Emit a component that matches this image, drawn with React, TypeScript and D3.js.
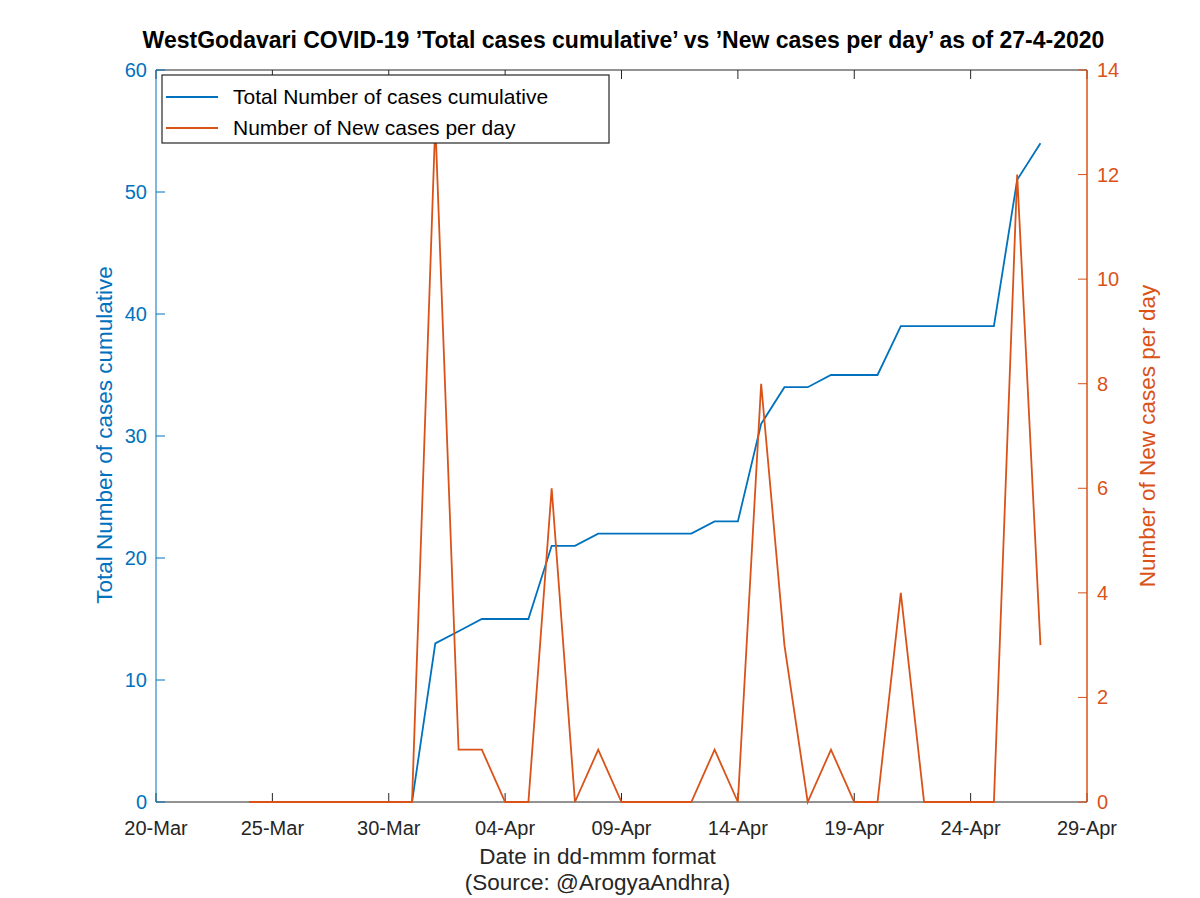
import React, { useEffect, useRef } from 'react';
import * as d3 from 'd3';

// daily series, 24-Mar-2020 .. 27-Apr-2020
const startDay = '2020-03-24';
const totalCases = [
  0, 0, 0, 0, 0, 0, 0, 0, 13, 14, 15, 15, 15, 21, 21, 22, 22, 22, 22, 22,
  23, 23, 31, 34, 34, 35, 35, 35, 39, 39, 39, 39, 39, 51, 54,
];
const newCases = [
  0, 0, 0, 0, 0, 0, 0, 0, 13, 1, 1, 0, 0, 6, 0, 1, 0, 0, 0, 0,
  1, 0, 8, 3, 0, 1, 0, 0, 4, 0, 0, 0, 0, 12, 3,
];
const xTickDates = ['2020-03-20', '2020-03-25', '2020-03-30', '2020-04-04', '2020-04-09', '2020-04-14', '2020-04-19', '2020-04-24', '2020-04-29'];
const leftTicks = [0, 10, 20, 30, 40, 50, 60];
const rightTicks = [0, 2, 4, 6, 8, 10, 12, 14];

const BLUE = '#0072BD';
const ORANGE = '#D95319';
const FONT = '"Liberation Sans", Arial, Helvetica, sans-serif';

const parse = (s: string) => {
  const [y, m, d] = s.split('-').map(Number);
  return new Date(y, m - 1, d);
};

const App = () => {
  const ref = useRef<SVGSVGElement>(null);

  useEffect(() => {
    draw();
  }, []);

  const draw = () => {
    const svg = d3.select(ref.current);
    svg.selectAll('*').remove();

    const left = 156, right = 1087, top = 70, bottom = 802;
    const day0 = parse(startDay);
    const dates = newCases.map((_, i) => d3.timeDay.offset(day0, i));

    const x = d3.scaleTime().domain([parse('2020-03-20'), parse('2020-04-29')]).range([left, right]);
    const yL = d3.scaleLinear().domain([0, 60]).range([bottom, top]);
    const yR = d3.scaleLinear().domain([0, 14]).range([bottom, top]);

    svg.append('rect').attr('width', 1200).attr('height', 898).attr('fill', '#fff');

    // box
    svg.append('line').attr('x1', left).attr('x2', right).attr('y1', top).attr('y2', top).attr('stroke', '#262626');
    svg.append('line').attr('x1', left).attr('x2', right).attr('y1', bottom).attr('y2', bottom).attr('stroke', '#262626');

    const fmt = d3.timeFormat('%d-%b');
    const xt = xTickDates.map(parse);
    xt.forEach((d) => {
      const px = x(d);
      svg.append('line').attr('x1', px).attr('x2', px).attr('y1', bottom).attr('y2', bottom - 9).attr('stroke', '#262626');
      svg.append('line').attr('x1', px).attr('x2', px).attr('y1', top).attr('y2', top + 9).attr('stroke', '#262626');
      svg.append('text').attr('x', px).attr('y', bottom + 33).attr('text-anchor', 'middle')
        .attr('font-family', FONT).attr('font-size', 20).attr('fill', '#262626').text(fmt(d));
    });

    // left axis
    svg.append('line').attr('x1', left).attr('x2', left).attr('y1', top).attr('y2', bottom).attr('stroke', BLUE);
    leftTicks.forEach((v) => {
      svg.append('line').attr('x1', left).attr('x2', left + 9).attr('y1', yL(v)).attr('y2', yL(v)).attr('stroke', BLUE);
      svg.append('text').attr('x', left - 9).attr('y', yL(v) + 7).attr('text-anchor', 'end')
        .attr('font-family', FONT).attr('font-size', 20).attr('fill', BLUE).text(v);
    });

    // right axis
    svg.append('line').attr('x1', right).attr('x2', right).attr('y1', top).attr('y2', bottom).attr('stroke', ORANGE).attr('stroke-width', 1.5);
    rightTicks.forEach((v) => {
      svg.append('line').attr('x1', right).attr('x2', right - 9).attr('y1', yR(v)).attr('y2', yR(v)).attr('stroke', ORANGE);
      svg.append('text').attr('x', right + 10).attr('y', yR(v) + 7).attr('text-anchor', 'start')
        .attr('font-family', FONT).attr('font-size', 20).attr('fill', ORANGE).text(v);
    });

    // lines
    const lineL = d3.line<number>().x((_, i) => x(dates[i])).y((d) => yL(d));
    const lineR = d3.line<number>().x((_, i) => x(dates[i])).y((d) => yR(d));
    svg.append('path').attr('d', lineL(totalCases)).attr('fill', 'none').attr('stroke', BLUE).attr('stroke-width', 1.8);
    svg.append('path').attr('d', lineR(newCases)).attr('fill', 'none').attr('stroke', ORANGE).attr('stroke-width', 1.8);

    // labels
    svg.append('text').attr('x', (left + right) / 2 + 2).attr('y', 48).attr('text-anchor', 'middle')
      .attr('font-family', FONT).attr('font-size', 23).attr('font-weight', 'bold').attr('fill', '#000')
      .text('WestGodavari COVID-19 ’Total cases cumulative’ vs ’New cases per day’ as of 27-4-2020');
    svg.append('text').attr('x', (left + right) / 2 - 24).attr('y', 864).attr('text-anchor', 'middle')
      .attr('font-family', FONT).attr('font-size', 22.5).attr('fill', '#262626').text('Date in dd-mmm format');
    svg.append('text').attr('x', (left + right) / 2 - 24).attr('y', 890).attr('text-anchor', 'middle')
      .attr('font-family', FONT).attr('font-size', 22.5).attr('fill', '#262626').text('(Source: @ArogyaAndhra)');
    svg.append('text').attr('transform', `translate(112,${(top + bottom) / 2 - 1}) rotate(-90)`).attr('text-anchor', 'middle')
      .attr('font-family', FONT).attr('font-size', 22.5).attr('fill', BLUE).text('Total Number of cases cumulative');
    svg.append('text').attr('transform', `translate(1155,${(top + bottom) / 2}) rotate(-90)`).attr('text-anchor', 'middle')
      .attr('font-family', FONT).attr('font-size', 22.5).attr('fill', ORANGE).text('Number of New cases per day');

    // legend
    const lg = svg.append('g');
    lg.append('rect').attr('x', 162).attr('y', 75).attr('width', 447).attr('height', 68)
      .attr('fill', '#fff').attr('stroke', '#262626').attr('stroke-width', 1.2);
    [['Total Number of cases cumulative', BLUE], ['Number of New cases per day', ORANGE]].forEach(([t, c], i) => {
      const ly = 97 + i * 31;
      lg.append('line').attr('x1', 166).attr('x2', 218).attr('y1', ly).attr('y2', ly).attr('stroke', c).attr('stroke-width', 1.8);
      lg.append('text').attr('x', 233).attr('y', ly + 7).attr('font-family', FONT).attr('font-size', 21).attr('fill', '#000').text(t);
    });
  };

  return <svg ref={ref} width={1200} height={898} style={{ position: 'absolute', left: 0, top: 0 }} />;
};

export default App;
